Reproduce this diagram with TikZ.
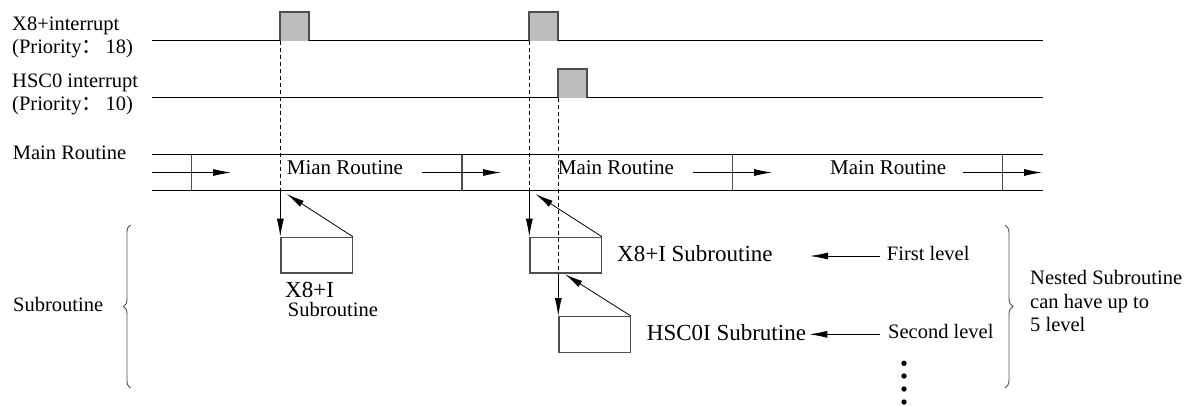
\documentclass[tikz,border=0pt]{standalone}
\usepackage{fontspec}
\setmainfont{Liberation Serif}
\newfontfamily\cjk{Noto Sans CJK SC}
\usetikzlibrary{arrows.meta,decorations.pathreplacing}
\definecolor{pulsegray}{HTML}{BDBDBD}
\definecolor{edgegray}{HTML}{4D4D4D}
\begin{document}
\begin{tikzpicture}[x=1pt,y=-1pt,
  sig/.style={line width=1pt},
  pulseedge/.style={draw=edgegray,line width=1.3pt},
  guide/.style={dash pattern=on 4pt off 3pt,line width=0.8pt},
  tip/.style={-{Latex[length=18pt,width=7pt]},line width=0.8pt},
  subbox/.style={draw=edgegray,line width=1.2pt,minimum width=71.4pt,minimum height=35.6pt,inner sep=0pt,anchor=north west},
  sepline/.style={draw=edgegray,line width=1.2pt},
  lbl/.style={font=\fontsize{20.5}{23.7}\selectfont,inner sep=0pt,anchor=base west},
  bandlbl/.style={font=\fontsize{21}{24}\selectfont,inner sep=0pt,anchor=base west},
  big/.style={font=\fontsize{23}{26}\selectfont,inner sep=0pt,anchor=base west},
  curly/.style={decorate,draw=edgegray,line width=0.9pt}]
\useasboundingbox (0,0) rectangle (1195,405);

% signal labels
\node[lbl] (x8a) at (12,30) {X8+interrupt};
\node[lbl] (x8b) at (12,53.3) {(Priority{\cjk ：}\,18)};
\node[lbl] (hsa) at (12,87.7) {HSC0 interrupt};
\node[lbl] (hsb) at (12,110) {(Priority{\cjk ：}\,10)};
\node[lbl] (mainl) at (12.7,159) {Main Routine};
\node[lbl] (subl) at (13,311) {Subroutine};

% X8+ interrupt signal with two pulses
\fill[pulsegray] (280,12) rectangle (309,40.5);
\fill[pulsegray] (529,12) rectangle (558,40.5);
\draw[pulseedge] (280,40.5) -- (280,12) -- (309,12) -- (309,40.5);
\draw[pulseedge] (529,40.5) -- (529,12) -- (558,12) -- (558,40.5);
\draw[sig] (152,40.5) -- (280,40.5) (309,40.5) -- (529,40.5) (558,40.5) -- (1043,40.5);

% HSC0 interrupt signal with one pulse
\fill[pulsegray] (558,69) rectangle (587,97.5);
\draw[pulseedge] (558,97.5) -- (558,69) -- (587,69) -- (587,97.5);
\draw[sig] (152,97.5) -- (558,97.5) (587,97.5) -- (1043,97.5);

% main routine band
\draw[sig] (152,154.5) -- (1043,154.5);
\draw[sig] (152,190.5) -- (1043,190.5);
\foreach \sx in {191.3,462,732.3,1002.7}
  \draw[sepline] (\sx,154.5) -- (\sx,190.5);
\foreach \ax/\bx in {152/231,422/501,693/772,963/1042}
  \draw[tip] (\ax,172.5) -- (\bx,172.5);
\node[bandlbl] (m1) at (286.7,174.3) {Mian Routine};
\node[bandlbl] (m2) at (557.7,174.3) {Main Routine};
\node[bandlbl] (m3) at (830,174.3) {Main Routine};

% interrupt guides
\draw[guide] (280,40.5) -- (280,190.5);
\draw[guide] (529,40.5) -- (529,190.5);
\draw[guide] (558,97.5) -- (558,272.3);

% subroutine boxes
\node[subbox] (b1) at (280.3,236.7) {};
\node[subbox] (b2) at (529.3,236.7) {};
\node[subbox] (b3) at (558.3,316) {};

\coordinate (d1) at (280.3,190.5);
\coordinate (d2) at (529.3,190.5);
\coordinate (r1) at (286.7,194);
\coordinate (r2) at (535.5,194);
\coordinate (r3) at (565,274.3);
\draw[tip] (d1) -- (b1.north west);
\draw[tip] (b1.north east) -- (r1);
\draw[tip] (d2) -- (b2.north west);
\draw[tip] (b2.north east) -- (r2);
\draw[tip] (b2.south west -| b3.north west) -- (b3.north west);
\draw[tip] (b3.north east) -- (r3);

% subroutine labels
\node[big] (s1a) at (285,297) {X8+I};
\node[lbl] (s1b) at (287.7,316.7) {Subroutine};
\node[big] (s2) at (617,261) {X8+I Subroutine};
\node[big] (s3) at (646.7,340) {HSC0I Subrutine};
\node[lbl] (lv1) at (886.7,260) {First level};
\node[lbl] (lv2) at (888,338) {Second level};
\coordinate (l1s) at (880,256);
\coordinate (l1e) at (810,256);
\coordinate (l2s) at (880,334.3);
\coordinate (l2e) at (809.3,334.3);
\draw[tip] (l1s) -- (l1e);
\draw[tip] (l2s) -- (l2e);

% further levels
\foreach \dy in {363.3,376,389,402}
  \fill (904,\dy) circle (2.7);

% braces
\draw[curly,decoration={brace,amplitude=7pt}] (130.5,388) -- (130.5,225);
\draw[curly,decoration={brace,amplitude=8pt}] (1005,225) -- (1005,388);
\node[lbl] (n1) at (1030,284) {Nested Subroutine};
\node[lbl] (n2) at (1030,308) {can have up to};
\node[lbl] (n3) at (1030,331.7) {5 level};
\end{tikzpicture}
\end{document}
